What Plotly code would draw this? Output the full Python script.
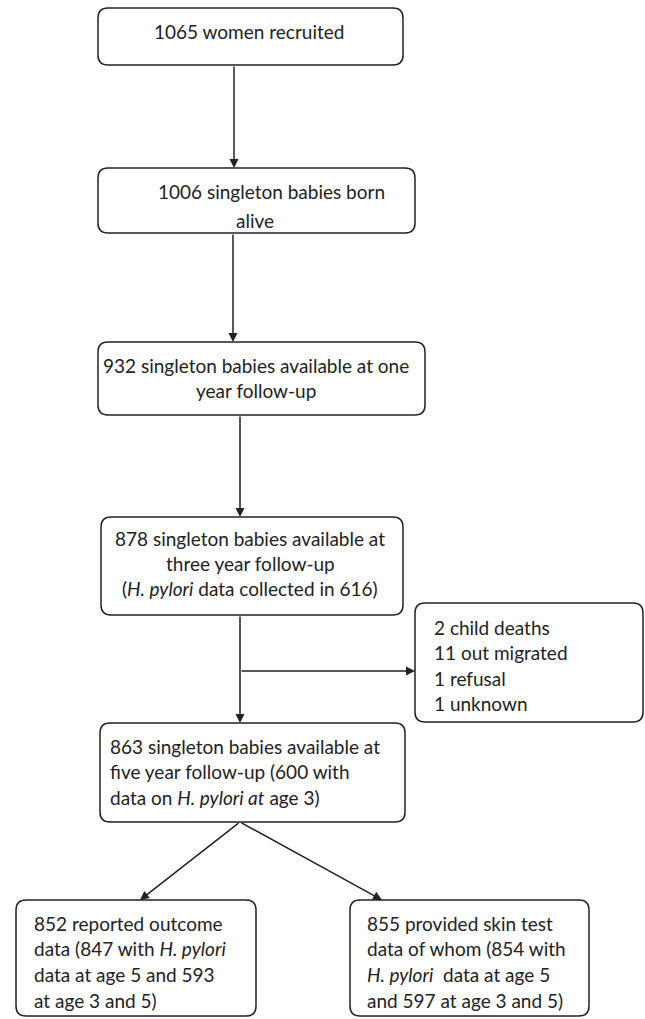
import plotly.graph_objects as go

# ---- content ----
box_recruited = ["1065 women recruited"]
box_born = ["1006 singleton babies born", "alive"]
box_one_year = ["932 singleton babies available at one", "year follow-up"]
box_three_year = ["878 singleton babies available at", "three year follow-up",
                  "(<i>H. pylori</i> data collected in 616)"]
box_losses = ["2 child deaths", "11 out migrated", "1 refusal", "1 unknown"]
box_five_year = ["863 singleton babies available at", "five year follow-up (600 with",
                 "data on <i>H. pylori at</i> age 3)"]
box_outcome = ["852 reported outcome", "data (847 with <i>H. pylori</i>",
               "data at age 5 and 593", "at age 3 and 5)"]
box_skin = ["855 provided skin test", "data of whom (854 with",
            "<i>H. pylori</i>  data at age 5", "and 597 at age 3 and 5)"]

W, H = 645, 1019
LINE = "#222222"
FONT = "Lato"
FS = 19

boxes = [
    dict(x0=98, y0=8, x1=403, y1=65, tx=249, align="center", ly=31, step=25, lines=box_recruited),
    dict(x0=98, y0=168, x1=415, y1=233, tx=255, align="center", ly=191, step=29, lines=box_born,
         offs=[16, 0]),
    dict(x0=98, y0=342, x1=425, y1=415, tx=256, align="center", ly=365, step=25, lines=box_one_year),
    dict(x0=101, y0=517, x1=403, y1=615, tx=250, align="center", ly=538, step=25, lines=box_three_year),
    dict(x0=415, y0=603, x1=643, y1=722, tx=432, align="left", ly=627, step=25.5, lines=box_losses),
    dict(x0=100, y0=723, x1=405, y1=822, tx=108, align="left", ly=746, step=25.5, lines=box_five_year),
    dict(x0=16, y0=900, x1=256, y1=1016, tx=32, align="left", ly=923, step=25.7, lines=box_outcome),
    dict(x0=350, y0=900, x1=589, y1=1016, tx=365, align="left", ly=923, step=25.7, lines=box_skin),
]


def rrect(x0, y0, x1, y1, r=10):
    return (f"M {x0+r},{y0} L {x1-r},{y0} Q {x1},{y0} {x1},{y0+r} "
            f"L {x1},{y1-r} Q {x1},{y1} {x1-r},{y1} L {x0+r},{y1} "
            f"Q {x0},{y1} {x0},{y1-r} L {x0},{y0+r} Q {x0},{y0} {x0+r},{y0} Z")


fig = go.Figure()
shapes = []
annotations = []

for b in boxes:
    shapes.append(dict(type="path", path=rrect(b["x0"], b["y0"], b["x1"], b["y1"]),
                       xref="x", yref="y", line=dict(color=LINE, width=1.5),
                       fillcolor="white", layer="below"))
    offs = b.get("offs", [0] * len(b["lines"]))
    for i, t in enumerate(b["lines"]):
        annotations.append(dict(
            x=b["tx"] + offs[i], y=b["ly"] + i * b["step"], xref="x", yref="y",
            text=t, showarrow=False,
            xanchor="center" if b["align"] == "center" else "left",
            yanchor="middle", font=dict(family=FONT, size=FS, color="#222222")))

# connectors: (tail_x, tail_y, head_x, head_y)
arrows = [
    (234, 65, 234, 168),
    (233, 233, 233, 342),
    (240, 415, 240, 517),
    (240, 615, 240, 723),
    (240, 671, 415, 671),
    (240, 822, 140, 900),
    (240, 822, 382, 900),
]
for tx_, ty_, hx, hy in arrows:
    annotations.append(dict(
        x=hx, y=hy, ax=tx_, ay=ty_, xref="x", yref="y", axref="x", ayref="y",
        text="", showarrow=True, arrowhead=2, arrowsize=1.2, arrowwidth=1.5,
        arrowcolor=LINE, standoff=0, startstandoff=0))

fig.update_layout(
    width=W, height=H, margin=dict(l=0, r=0, t=0, b=0),
    paper_bgcolor="white", plot_bgcolor="white",
    xaxis=dict(range=[0, W], visible=False, fixedrange=True),
    yaxis=dict(range=[H, 0], visible=False, fixedrange=True),
    shapes=shapes, annotations=annotations, showlegend=False,
)
fig.write_html(
    "out.html",
    config={"displayModeBar": False, "staticPlot": True},
    post_script="document.body.style.margin='0';document.body.style.overflow='hidden';",
)
